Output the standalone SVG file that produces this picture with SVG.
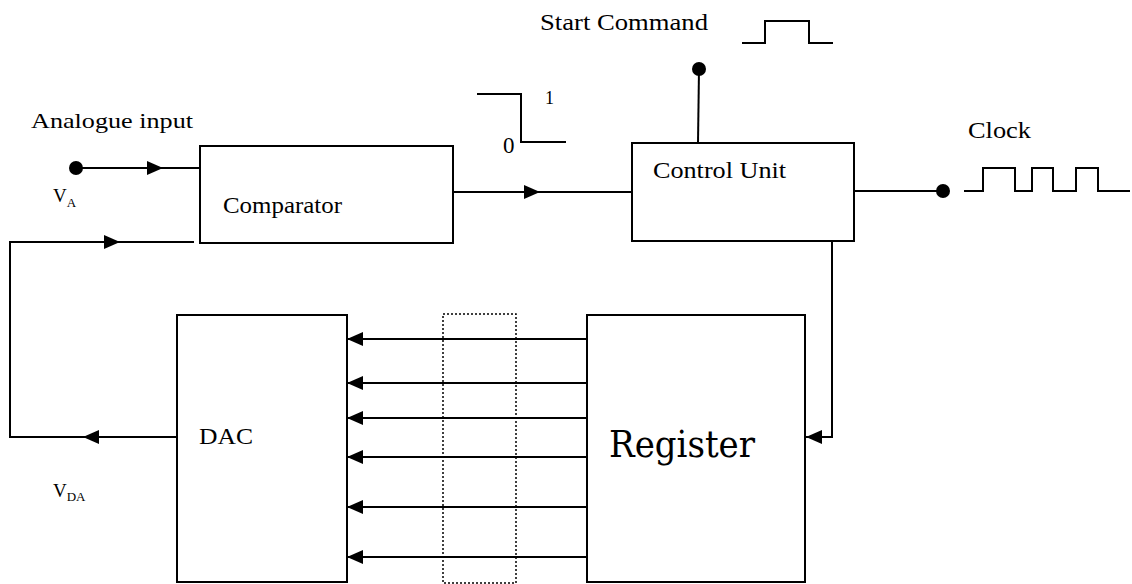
<svg xmlns="http://www.w3.org/2000/svg" width="1132" height="584" viewBox="0 0 1132 584">
<style>
.box{fill:none;stroke:#000;stroke-width:2}
.ln{fill:none;stroke:#000;stroke-width:2}
.t{font-family:"Liberation Serif","Times New Roman",serif;fill:#000}
.reg{font-family:"DejaVu Serif",serif;fill:#000}
</style>
<defs>
<marker id="ah" viewBox="0 0 16 14" refX="16" refY="7" markerWidth="16" markerHeight="14" markerUnits="userSpaceOnUse" orient="auto">
<path d="M0,0 L16,7 L0,14 Z" fill="#000"/>
</marker>
</defs>
<rect width="1132" height="584" fill="#fff"/>

<g id="comparator">
<rect class="box" x="200" y="146" width="253" height="97"/>
<text class="t" x="223" y="213" font-size="23" textLength="119" lengthAdjust="spacingAndGlyphs">Comparator</text>
</g>
<g id="control-unit">
<rect class="box" x="632" y="143" width="222" height="98"/>
<text class="t" x="653" y="178" font-size="23" textLength="133" lengthAdjust="spacingAndGlyphs">Control Unit</text>
</g>
<g id="dac">
<rect class="box" x="177" y="315" width="170" height="267"/>
<text class="t" x="199" y="444" font-size="24" textLength="54" lengthAdjust="spacingAndGlyphs">DAC</text>
</g>
<g id="register">
<rect class="box" x="587" y="315" width="218" height="267"/>
<text class="reg" x="609" y="457" font-size="37" textLength="146" lengthAdjust="spacingAndGlyphs">Register</text>
</g>
<g id="bus-frame">
<rect x="443" y="314" width="73" height="269" fill="none" stroke="#000" stroke-width="1.5" stroke-dasharray="2,2"/>
</g>

<g id="labels">
<text class="t" x="31" y="128" font-size="22" textLength="162" lengthAdjust="spacingAndGlyphs">Analogue input</text>
<text class="t" x="53" y="202" font-size="19">V<tspan font-size="13" dy="5">A</tspan></text>
<text class="t" x="53" y="497" font-size="19">V<tspan font-size="13" dy="4">DA</tspan></text>
<text class="t" x="540" y="30" font-size="23" textLength="168" lengthAdjust="spacingAndGlyphs">Start Command</text>
<text class="t" x="968" y="138" font-size="23" textLength="63" lengthAdjust="spacingAndGlyphs">Clock</text>
<text class="t" x="545" y="104" font-size="18">1</text>
<text class="t" x="503" y="153" font-size="23">0</text>
</g>

<g id="connectors">
<circle cx="76" cy="168" r="7" fill="#000"/>
<line class="ln" x1="76" y1="168" x2="200" y2="168"/>
<line class="ln" x1="76" y1="168" x2="163" y2="168" marker-end="url(#ah)"/>

<polyline class="ln" points="177,437 10,437 10,242 194,242"/>
<line class="ln" x1="177" y1="437" x2="83" y2="437" marker-end="url(#ah)"/>
<line class="ln" x1="10" y1="242" x2="120" y2="242" marker-end="url(#ah)"/>

<line class="ln" x1="453" y1="192" x2="632" y2="192"/>
<line class="ln" x1="453" y1="192" x2="540" y2="192" marker-end="url(#ah)"/>

<circle cx="699" cy="69" r="7" fill="#000"/>
<line class="ln" x1="699" y1="69" x2="698" y2="143"/>

<line class="ln" x1="854" y1="191" x2="943" y2="191"/>
<circle cx="943" cy="191" r="7" fill="#000"/>

<polyline class="ln" points="832,241 832,437 806,437"/>
<line class="ln" x1="832" y1="437" x2="806" y2="437" marker-end="url(#ah)"/>

<line class="ln" x1="587" y1="339" x2="347" y2="339" marker-end="url(#ah)"/>
<line class="ln" x1="587" y1="383" x2="347" y2="383" marker-end="url(#ah)"/>
<line class="ln" x1="587" y1="418" x2="347" y2="418" marker-end="url(#ah)"/>
<line class="ln" x1="587" y1="457" x2="347" y2="457" marker-end="url(#ah)"/>
<line class="ln" x1="587" y1="507" x2="347" y2="507" marker-end="url(#ah)"/>
<line class="ln" x1="587" y1="557" x2="347" y2="557" marker-end="url(#ah)"/>
</g>

<g id="waveforms">
<polyline class="ln" points="477,94 521,94 521,142 566,142"/>
<polyline class="ln" points="742,43 765,43 765,21 809,21 809,43 833,43"/>
<polyline class="ln" points="964,191 983,191 983,168 1015,168 1015,191 1032,191 1032,168 1053,168 1053,191 1076,191 1076,168 1098,168 1098,191 1130,191"/>
</g>
</svg>
